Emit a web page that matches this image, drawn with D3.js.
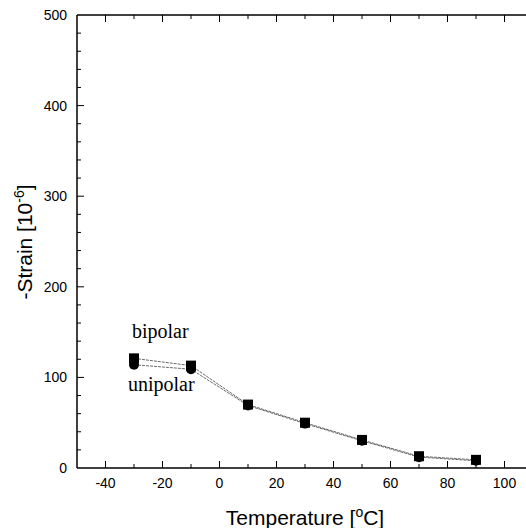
<!DOCTYPE html>
<html>
<head>
<meta charset="utf-8">
<script src="https://cdn.jsdelivr.net/npm/d3@7"></script>
<style>
  body { margin: 0; background: #fff; }
  svg { display: block; }
</style>
</head>
<body>
<svg id="chart" width="526" height="528"></svg>
<script>
// data
const temps = [-30, -10, 10, 30, 50, 70, 90];
const bipolar = [121, 113, 70, 50, 31, 13, 9];
const unipolar = [114, 109, 69, 49, 30, 12, 8];
const xTicks = [-40, -20, 0, 20, 40, 60, 80, 100];
const yTicks = [0, 100, 200, 300, 400, 500];

let svg = d3.select("#chart");

let x = d3.scaleLinear().domain([-50, 110]).range([77, 533]);
let y = d3.scaleLinear().domain([0, 500]).range([468, 15]);

let sans = "Liberation Sans, Arial, sans-serif";
let serif = "Liberation Serif, Times New Roman, serif";

let g = svg.append("g");

// frame (right side is cut off by the picture)
g.append("line").attr("x1", 77).attr("x2", 526).attr("y1", y(500)).attr("y2", y(500))
  .attr("stroke", "#000").attr("stroke-width", 1.3);
g.append("line").attr("x1", 77).attr("x2", 526).attr("y1", y(0)).attr("y2", y(0))
  .attr("stroke", "#000").attr("stroke-width", 1.5);
g.append("line").attr("x1", 77).attr("x2", 77).attr("y1", y(0)).attr("y2", y(500))
  .attr("stroke", "#000").attr("stroke-width", 1.5);

// inward ticks
let minorX = d3.range(-40, 111, 10);
minorX.forEach(function(v){
  let major = v % 20 == 0;
  let len = major ? 7 : 4;
  g.append("line").attr("x1", x(v)).attr("x2", x(v))
    .attr("y1", y(0)).attr("y2", y(0) - len).attr("stroke", "#000").attr("stroke-width", 1);
  g.append("line").attr("x1", x(v)).attr("x2", x(v))
    .attr("y1", y(500)).attr("y2", y(500) + len).attr("stroke", "#000").attr("stroke-width", 1);
});
let minorY = d3.range(20, 500, 20);
minorY.forEach(function(v){
  let major = v % 100 == 0;
  g.append("line").attr("x1", 77).attr("x2", 77 + (major ? 7 : 4))
    .attr("y1", y(v)).attr("y2", y(v)).attr("stroke", "#000").attr("stroke-width", 1);
});

// tick labels
g.selectAll(".xt").data(xTicks).enter().append("text")
  .attr("x", function(d){ return x(d); })
  .attr("y", 488)
  .attr("text-anchor", "middle")
  .attr("font-family", sans)
  .attr("font-size", "14px")
  .text(function(d){ return d; });

g.selectAll(".yt").data(yTicks).enter().append("text")
  .attr("x", 67)
  .attr("y", function(d){ return y(d) + 5; })
  .attr("text-anchor", "end")
  .attr("font-family", sans)
  .attr("font-size", "14px")
  .text(function(d){ return d; });

// axis titles
let xt = g.append("text")
  .attr("x", 305).attr("y", 525)
  .attr("text-anchor", "middle")
  .attr("font-family", sans)
  .attr("font-size", "21px");
xt.append("tspan").text("Temperature [");
xt.append("tspan").attr("dy", -8).attr("font-size", "14px").text("o");
xt.append("tspan").attr("dy", 8).text("C]");

let yt = g.append("text")
  .attr("transform", "translate(32,242) rotate(-90)")
  .attr("text-anchor", "middle")
  .attr("font-family", sans)
  .attr("font-size", "21px");
yt.append("tspan").text("-Strain [10");
yt.append("tspan").attr("dy", -8).attr("font-size", "14px").text("-6");
yt.append("tspan").attr("dy", 8).text("]");

// lines
let line = d3.line()
  .x(function(d, i){ return x(temps[i]); })
  .y(function(d){ return y(d); });

g.append("path").datum(unipolar).attr("d", line)
  .attr("fill", "none").attr("stroke", "#444").attr("stroke-width", 0.8)
  .attr("stroke-dasharray", "3,1");
g.append("path").datum(bipolar).attr("d", line)
  .attr("fill", "none").attr("stroke", "#444").attr("stroke-width", 0.8)
  .attr("stroke-dasharray", "3,1");

// markers
g.selectAll(".uni").data(unipolar).enter().append("circle")
  .attr("cx", function(d, i){ return x(temps[i]); })
  .attr("cy", function(d){ return y(d); })
  .attr("r", 5)
  .attr("fill", "#000");
g.selectAll(".bi").data(bipolar).enter().append("rect")
  .attr("x", function(d, i){ return x(temps[i]) - 5; })
  .attr("y", function(d){ return y(d) - 5; })
  .attr("width", 10).attr("height", 10)
  .attr("fill", "#000");

// series labels
g.append("text").attr("x", 132).attr("y", 338)
  .attr("font-family", serif)
  .attr("font-size", "20px").text("bipolar");
g.append("text").attr("x", 128).attr("y", 391)
  .attr("font-family", serif)
  .attr("font-size", "20px").text("unipolar");
</script>
</body>
</html>
